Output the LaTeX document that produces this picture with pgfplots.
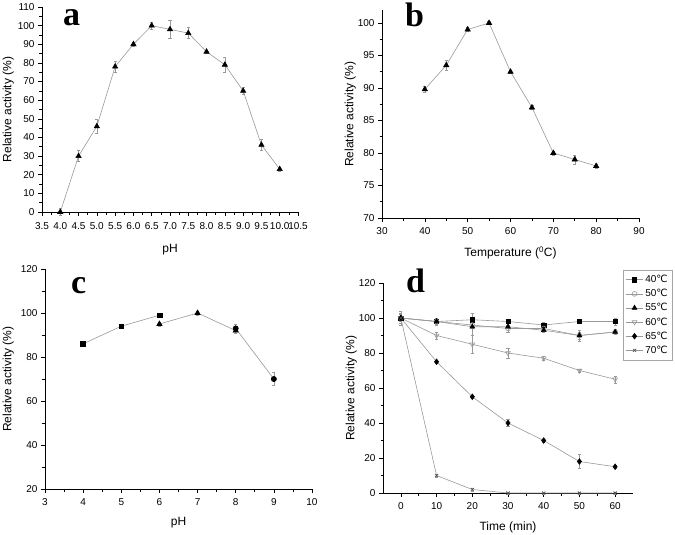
\documentclass[border=0pt]{standalone}
\usepackage{fontspec}
\setmainfont{Liberation Sans}
\newfontfamily\lserif{Liberation Serif}
\newfontfamily\dejavu{DejaVu Sans}
\usepackage{pgfplots}
\pgfplotsset{compat=1.18}

\pgfplotsset{
  orig/.style={
    scale only axis,
    axis lines*=left,
    axis line style={black, line width=0.7pt},
    tick align=outside,
    major tick length=4pt,
    minor tick length=2.5pt,
    tick style={black, line width=0.6pt},
    minor tick num=1,
    /pgf/number format/assume math mode=true,
    tick label style={font=\fontsize{10}{12}\selectfont},
    label style={font=\fontsize{12}{14}\selectfont},
    xticklabel shift=2pt,
    xlabel shift=5pt,
    every axis plot/.append style={line width=0.6pt},
    clip=false,
  },
  ser/.style={
    color=gray!80, mark options={black, solid},
    error bars/y dir=both, error bars/y explicit,
    error bars/error bar style={gray!80, line width=0.5pt},
    error bars/error mark options={rotate=90, gray!80, mark size=1.6pt, line width=0.5pt},
  },
}
\newcommand{\C}{{\dejavu ℃}}

\begin{document}
\begin{tikzpicture}
\useasboundingbox (0,0) rectangle (675pt,-535pt);

% ---------- a ----------
\begin{axis}[orig, at={(42pt,-212pt)}, anchor=south west,
  width=256pt, height=205pt,
  xmin=3.5, xmax=10.5, ymin=0, ymax=110,
  xtick distance=0.5, ytick distance=10,
  xticklabel shift=3pt, xlabel shift=8pt, ylabel shift=-3pt,
  xticklabel style={/pgf/number format/.cd, fixed, fixed zerofill, precision=1},
  xlabel={pH}, ylabel={Relative activity (\%)}]
\addplot[ser, mark=triangle*, mark size=3pt] coordinates {
  (4.0,0) +- (0,2)
  (4.5,30) +- (0,3)
  (5.0,46) +- (0,4)
  (5.5,78) +- (0,3)
  (6.0,90) +- (0,1)
  (6.5,100) +- (0,2)
  (7.0,98) +- (0,5)
  (7.5,96) +- (0,3)
  (8.0,86) +- (0,1)
  (8.5,79) +- (0,4)
  (9.0,65) +- (0,2)
  (9.5,36) +- (0,3)
  (10.0,23) +- (0,1)
};
\end{axis}

% ---------- b ----------
\begin{axis}[orig, at={(382pt,-218pt)}, anchor=south west,
  width=257pt, height=208pt,
  xmin=30, xmax=90, ymin=70, ymax=102,
  xtick distance=10, ytick distance=5, ylabel shift=-5pt,
  xlabel={Temperature (\textsuperscript{0}C)}, ylabel={Relative activity (\%)}]
\addplot[ser, mark=triangle*, mark size=3pt] coordinates {
  (40,89.8) +- (0,0.5)
  (45,93.5) +- (0,0.8)
  (50,99) +- (0,0.3)
  (55,100) +- (0,0.2)
  (60,92.5) +- (0,0.3)
  (65,87) +- (0,0.3)
  (70,80) +- (0,0.3)
  (75,79) +- (0,0.7)
  (80,78) +- (0,0.3)
};
\end{axis}

% ---------- c ----------
\begin{axis}[orig, at={(45pt,-489pt)}, anchor=south west,
  width=267pt, height=220pt,
  xmin=3, xmax=10, ymin=20, ymax=120,
  xtick distance=1, ytick distance=20,
  xlabel={pH}, ylabel={Relative activity (\%)}]
\addplot[ser, mark=square*, mark size=2.4pt] coordinates {
  (4,86) +- (0,0.8)
  (5,94) +- (0,0.8)
  (6,99) +- (0,0.8)
};
\addplot[ser, mark=triangle*, mark size=3pt] coordinates {
  (6,95) +- (0,0.8)
  (7,100) +- (0,0.8)
  (8,92) +- (0,1)
};
\addplot[ser, mark=*, mark size=2.6pt] coordinates {
  (8,93) +- (0,2)
  (9,70) +- (0,3)
};
\end{axis}

% ---------- d ----------
\begin{axis}[orig, at={(383pt,-493pt)}, anchor=south west,
  width=250pt, height=210pt,
  xmin=-5, xmax=65, ymin=0, ymax=120,
  xtick={0,10,...,60}, ytick distance=20, ylabel shift=-5pt,
  xlabel={Time (min)}, ylabel={Relative activity (\%)},
  legend cell align=left,
  legend style={at={(0.96,1.062)}, anchor=north west, draw=gray!70,
    font=\fontsize{10}{12}\selectfont, inner sep=2.5pt,
    nodes={inner ysep=2.6pt}}]
\addplot[ser, mark=square*, mark size=2.2pt] coordinates {
  (0,100) +- (0,4) (10,98) +- (0,1.5) (20,99) +- (0,4) (30,98) +- (0,1)
  (40,96) +- (0,1.5) (50,98) +- (0,1) (60,98) +- (0,2)
};
\addlegendentry{40\C}
\addplot[ser, mark=o, mark size=2.4pt, mark options={fill=white, gray!80}] coordinates {
  (0,100) +- (0,3) (10,98) +- (0,1) (20,96) +- (0,2) (30,94) +- (0,2)
  (40,94) +- (0,1) (50,90) +- (0,2) (60,92) +- (0,1)
};
\addlegendentry{50\C}
\addplot[ser, mark=triangle*, mark size=2.8pt] coordinates {
  (0,100) +- (0,3) (10,98) +- (0,2) (20,95) +- (0,5) (30,95) +- (0,3)
  (40,93) +- (0,1) (50,90) +- (0,3) (60,92) +- (0,1.5)
};
\addlegendentry{55\C}
\addplot[ser, mark=triangle, mark size=2.8pt, mark options={rotate=180, fill=white, gray!80}] coordinates {
  (0,100) +- (0,3) (10,90) +- (0,2) (20,85) +- (0,5) (30,80) +- (0,3)
  (40,77) +- (0,1) (50,70) +- (0,1) (60,65) +- (0,2)
};
\addlegendentry{60\C}
\addplot[ser, mark=diamond*, mark size=2.8pt] coordinates {
  (0,100) +- (0,2) (10,75) +- (0,1) (20,55) +- (0,1) (30,40) +- (0,2)
  (40,30) +- (0,1) (50,18) +- (0,4) (60,15) +- (0,1)
};
\addlegendentry{65\C}
\addplot[ser, mark=x, mark size=2.2pt, mark options={gray!60!black}] coordinates {
  (0,100) +- (0,1) (10,10) +- (0,1) (20,2) +- (0,1) (30,0) +- (0,0.5)
  (40,0) +- (0,0.5) (50,0) +- (0,0.5) (60,0) +- (0,0.5)
};
\addlegendentry{70\C}
\end{axis}

% panel letters
\node[anchor=base west, inner sep=0pt, font=\lserif\bfseries\fontsize{34}{34}\selectfont] at (63pt,-26pt) {a};
\node[anchor=base west, inner sep=0pt, font=\lserif\bfseries\fontsize{34}{34}\selectfont] at (405pt,-27pt) {b};
\node[anchor=base west, inner sep=0pt, font=\lserif\bfseries\fontsize{34}{34}\selectfont] at (71pt,-293pt) {c};
\node[anchor=base west, inner sep=0pt, font=\lserif\bfseries\fontsize{34}{34}\selectfont] at (406pt,-292pt) {d};
\end{tikzpicture}
\end{document}
